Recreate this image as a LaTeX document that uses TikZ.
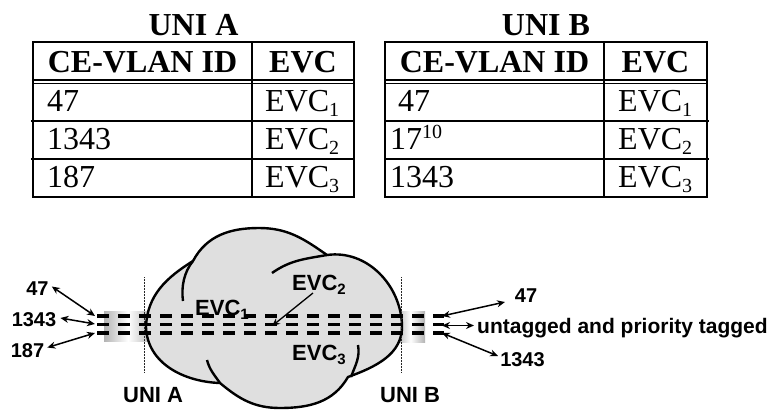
\documentclass[tikz,border=0pt]{standalone}
\usepackage{fontspec}
\setmainfont{Liberation Serif}
\setsansfont{Liberation Sans}
\usetikzlibrary{arrows.meta}
\newcommand\tsub[1]{\raisebox{-5.5pt}{\fontsize{20}{20}\selectfont #1}}
\newcommand\ssub[1]{\raisebox{-4.5pt}{\fontsize{15}{15}\selectfont #1}}
\newcommand\tsup[1]{\raisebox{11pt}{\fontsize{20}{20}\selectfont #1}}
\begin{document}
\begin{tikzpicture}[x=1pt,y=-1pt,
  tabline/.style={line width=2.2pt},
  thinline/.style={line width=1.1pt},
  ttitle/.style={font=\fontsize{32}{32}\selectfont\bfseries, inner sep=0pt, anchor=base},
  thead/.style={font=\fontsize{32}{32}\selectfont\bfseries, inner sep=0pt, anchor=base},
  tcell/.style={font=\fontsize{32}{32}\selectfont, inner sep=0pt, anchor=base west},
  numlab/.style={font=\sffamily\bfseries\fontsize{20}{20}\selectfont, inner sep=0pt},
  bigl/.style={font=\sffamily\bfseries\fontsize{22}{22}\selectfont, inner sep=0pt, anchor=base west},
  pipe/.style={left color=gray!60, right color=gray!60, middle color=white, draw=none},
  cloudfill/.style={fill=gray!25, draw=black, line width=2.4pt},
  cloudline/.style={draw=black, line width=2.4pt},
  evcdash/.style={line width=3.2pt, dash pattern=on 12pt off 9pt},
  unil/.style={line width=1pt, black!85, dash pattern=on 1pt off 0.5pt},
  darr/.style={line width=1.5pt, {Stealth[length=8pt,width=7pt]}-{Stealth[length=8pt,width=7pt]}},
  sarr/.style={line width=1.3pt, -{Stealth[length=8pt,width=7pt]}}
]
\useasboundingbox (0,0) rectangle (771,410);

% ---------- Table UNI A ----------
\node[ttitle] (tA) at (193.5,35) {UNI A};
\draw[tabline] (33,42) rectangle (354,197);
\draw[tabline] (252,42) -- (252,197);
\draw[thinline] (33,80) -- (354,80);
\draw[thinline] (33,83.5) -- (354,83.5);
\draw[tabline] (31,121) -- (354,121);
\draw[tabline] (31,159) -- (354,159);
\node[thead] (aH1) at (142.5,72) {CE-VLAN ID};
\node[thead] (aH2) at (303,72) {EVC};
\node[tcell] (aR1) at (47,111) {47};
\node[tcell] (aR2) at (47,149) {1343};
\node[tcell] (aR3) at (47,187) {187};
\node[tcell] (aE1) at (265,111) {EVC\tsub{1}};
\node[tcell] (aE2) at (265,149) {EVC\tsub{2}};
\node[tcell] (aE3) at (265,187) {EVC\tsub{3}};

% ---------- Table UNI B ----------
\node[ttitle] (tB) at (546,35) {UNI B};
\draw[tabline] (385,42) rectangle (707,197);
\draw[tabline] (604,42) -- (604,197);
\draw[thinline] (385,80) -- (707,80);
\draw[thinline] (385,83.5) -- (707,83.5);
\draw[tabline] (385,121) -- (709,121);
\draw[tabline] (385,159) -- (709,159);
\node[thead] (bH1) at (494.5,72) {CE-VLAN ID};
\node[thead] (bH2) at (655.5,72) {EVC};
\node[tcell] (bR1) at (398,111) {47};
\node[tcell] (bR2) at (390,149) {17\tsup{10}};
\node[tcell] (bR3) at (390,187) {1343};
\node[tcell] (bE1) at (618,111) {EVC\tsub{1}};
\node[tcell] (bE2) at (618,149) {EVC\tsub{2}};
\node[tcell] (bE3) at (618,187) {EVC\tsub{3}};

% ---------- Pipes ----------
\path[pipe] (104,311) rectangle (152,341);
\path[pipe] (396,311) rectangle (425,342);

% ---------- Cloud ----------
\path[cloudfill] (146,327) to[out=88,in=212] (193,261)
  to[out=62,in=180] (259,228) to[out=0,in=145] (327,255)
  to[out=8,in=92] (402,325) to[out=-88,in=20] (348,377)
  to[out=-120,in=0] (280,408) to[out=180,in=-40] (220,383)
  to[out=178,in=-88] cycle;
\draw[cloudline] (183,301) .. controls (181,287) and (184,272) .. (193,261);
\draw[cloudline] (272,273) to[out=35,in=190] (327,255);
\draw[cloudline] (358,345) to[out=-80,in=70] (351,377);
\draw[cloudline] (207,360) to[out=-75,in=125] (220,383);

% ---------- UNI lines ----------
\coordinate (ua1) at (144,277); \coordinate (ua2) at (144,372);
\coordinate (ub1) at (401,277); \coordinate (ub2) at (401,372);
\draw[unil] (ua1) -- (ua2);
\draw[unil] (ub1) -- (ub2);

% ---------- EVC dashed lines ----------
\coordinate (l1) at (97,316);   \coordinate (r1) at (444,316);
\coordinate (l2) at (97,324.5); \coordinate (r2) at (444,324.5);
\coordinate (l3) at (97,333);   \coordinate (r3) at (444,333);
\draw[evcdash] (l1) -- (r1);
\draw[evcdash] (l2) -- (r2);
\draw[evcdash] (l3) -- (r3);

% ---------- EVC labels ----------
\node[bigl] (e1) at (195,315) {EVC\ssub{1}};
\node[bigl] (e2) at (292,290) {EVC\ssub{2}};
\node[bigl] (e3) at (292,360) {EVC\ssub{3}};
\coordinate (e2s) at (313,293);
\coordinate (e2t) at (272,326);
\draw[sarr] (e2s) -- (e2t);

% ---------- UNI labels ----------
\node[bigl] (uA) at (123,402) {UNI A};
\node[bigl] (uB) at (380,402) {UNI B};

% ---------- Left tags ----------
\node[numlab] (n47) at (37.5,288.5) {47};
\node[numlab] (n1343) at (34,320) {1343};
\node[numlab] (n187) at (27.5,350.5) {187};
\coordinate (a47) at (95,316);
\coordinate (a1343) at (95,324);
\coordinate (a187) at (95,333);
\draw[darr] (n47.east) ++(3,-2) coordinate (s47) (s47) -- (a47);
\draw[darr] (n1343.east) ++(4,-2) coordinate (s1343) (s1343) -- (a1343);
\draw[darr] (n187.east) ++(3,-3) coordinate (s187) (s187) -- (a187);

% ---------- Right tags ----------
\node[numlab] (m47) at (526,295.5) {47};
\node[numlab,font=\sffamily\bfseries\fontsize{21}{21}\selectfont, anchor=west] (mut) at (477,328) {untagged and priority tagged};
\node[numlab] (m1343) at (522.5,359.5) {1343};
\coordinate (b47) at (442,316);
\coordinate (b2) at (442,325.5);
\coordinate (b1343) at (442,333);
\coordinate (t47) at (505,302);
\coordinate (tut) at (474,325.5);
\coordinate (t1343) at (498,356);
\draw[darr] (b47) -- (t47);
\draw[darr] (b2) -- (tut);
\draw[darr] (b1343) -- (t1343);
\end{tikzpicture}
\end{document}
